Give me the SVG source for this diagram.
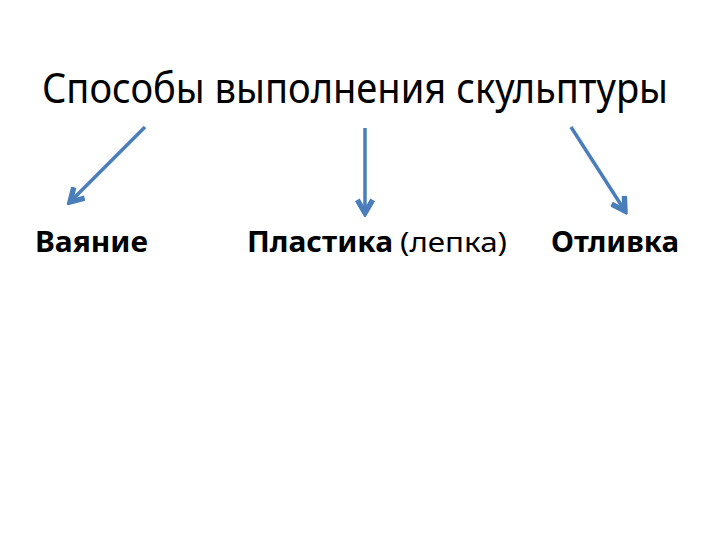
<svg xmlns="http://www.w3.org/2000/svg" width="720" height="540" viewBox="0 0 720 540">
<style>
.t{font-family:"Noto Sans","Open Sans","DejaVu Sans",sans-serif;fill:#000}
.title{font-size:41px}
.lbl{font-size:28px;font-weight:bold}
.reg{font-size:28px;font-weight:normal}
.c{stroke:#4a7ebb;stroke-width:3.5;fill:none;marker-end:url(#ah)}
</style>
<defs>
<marker id="ah" viewBox="0 0 10 10" refX="8" refY="5" markerWidth="5.5" markerHeight="5.5" orient="auto" markerUnits="strokeWidth">
<path d="M1.2,1 L8,5 L1.2,9" fill="none" stroke="#4a7ebb" stroke-width="2.8" stroke-linejoin="miter"/>
</marker>
</defs>
<rect width="720" height="540" fill="#fff"/>
<g id="title"><text class="t title" x="42" y="103" textLength="626" lengthAdjust="spacingAndGlyphs">Способы выполнения скульптуры</text></g>
<g id="vayanie"><text class="t lbl" x="35" y="252" textLength="113" lengthAdjust="spacingAndGlyphs">Ваяние</text></g>
<g id="plastika"><text class="t lbl" x="247" y="252" textLength="146" lengthAdjust="spacingAndGlyphs">Пластика</text><text class="t reg" x="400" y="252" textLength="107" lengthAdjust="spacingAndGlyphs">(лепка)</text></g>
<g id="otlivka"><text class="t lbl" x="551" y="252" textLength="128" lengthAdjust="spacingAndGlyphs">Отливка</text></g>
<g id="connectors">
<line class="c" x1="145" y1="127" x2="70" y2="202"/>
<line class="c" x1="365" y1="128" x2="365" y2="213"/>
<line class="c" x1="571" y1="127" x2="625" y2="211"/>
</g>
</svg>
